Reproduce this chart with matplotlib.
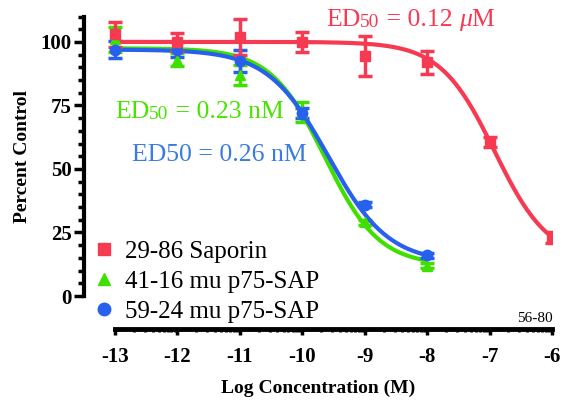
import numpy as np
import matplotlib.pyplot as plt
from matplotlib.lines import Line2D

# log molar concentrations
log_conc = [-13, -12, -11, -10, -9, -8, -7, -6]
log_conc_mu = [-13, -12, -11, -10, -9, -8]

# percent control (mean, sem)
sap_y = [103, 100, 102, 100, 94.5, 92, 60.5, 23]
sap_err = [5, 3.5, 7, 4, 8, 4.5, 2, 2]
mu41_y = [101, 93, 87, 72.5, 29, 12]
mu41_err = [5, 2.5, 4, 4, 1, 1]
mu59_y = [97, 97, 92.5, 72, 36, 16]
mu59_err = [3.5, 3, 4.5, 2, 1, 1]

# fitted curve parameters: top, bottom, logEC50, hill slope
sap_fit = [100, 14, -6.92, -1.0]
mu41_fit = [97.5, 12, -9.64, -1.0]
mu59_fit = [97, 13, -9.585, -0.9]

labels = ["29-86 Saporin", "41-16 mu p75-SAP", "59-24 mu p75-SAP"]
red = "#F53A52"
green = "#3FE000"
blue = "#2860EE"

plt.rcParams['font.family'] = ['Liberation Serif', 'DejaVu Serif']
plt.rcParams['axes.unicode_minus'] = False


def logistic(x, p):
    top, bottom, ec50, hill = p
    return bottom + (top - bottom) / (1 + 10 ** ((x - ec50) * -hill))


fig = plt.figure(figsize=(5.62, 4), dpi=100)
ax = fig.add_axes([84 / 562, 104 / 400, 468 / 562, 279.5 / 400])

series = [
    (log_conc_mu, mu41_y, mu41_err, mu41_fit, green, "^", -8),
    (log_conc_mu, mu59_y, mu59_err, mu59_fit, blue, "o", -8),
    (log_conc, sap_y, sap_err, sap_fit, red, "s", -6),
]
for xs, ys, es, fit, col, mk, xend in series:
    xx = np.linspace(-13, xend, 300)
    ax.plot(xx, logistic(xx, fit), color=col, lw=3, solid_capstyle='butt')
    ax.errorbar(xs, ys, yerr=es, fmt=mk, color=col, ms=7.5, elinewidth=2.5,
                capsize=5, capthick=2.5)

ax.set_xlim(-13.497, -6)
ax.set_ylim(0, 110)

for s in ['top', 'right']:
    ax.spines[s].set_visible(False)
ax.spines['left'].set_linewidth(3)
ax.spines['left'].set_bounds(0, 110)
ax.spines['bottom'].set_linewidth(3.5)
ax.spines['bottom'].set_bounds(-13, -6)
ax.spines['bottom'].set_position(('outward', 24))

ax.set_yticks([0, 25, 50, 75, 100])
ax.set_yticks(np.arange(0, 111, 5), minor=True)
ax.set_xticks(range(-13, -5))
ax.set_xticks([d + np.log10(k) for d in range(-13, -6) for k in range(2, 10)], minor=True)
ax.tick_params(axis='y', which='major', length=7, width=2.5, labelsize=15, pad=2)
ax.tick_params(axis='y', which='minor', length=4, width=2.5)
ax.tick_params(axis='x', which='major', length=4, width=2.5, labelsize=15, pad=9)
ax.tick_params(axis='x', which='minor', length=2.5, width=2)
for t in ax.get_xticklabels() + ax.get_yticklabels():
    t.set_fontweight('bold')

ax.set_ylabel("Percent Control", fontsize=14, fontweight='bold', labelpad=7)
ax.set_xlabel("Log Concentration (M)", fontsize=14, fontweight='bold', labelpad=9)

handles = [Line2D([], [], ls='none', marker=m, color=c, ms=9)
           for m, c in [("s", red), ("^", green), ("o", blue)]]
ax.legend(handles, labels, loc='upper left', bbox_to_anchor=(84 / 562, 1 - 228 / 400),
          bbox_transform=fig.transFigure, frameon=False, fontsize=18,
          handlelength=0.6, handletextpad=0.55, labelspacing=0.3, borderpad=0)


def ed50_label(x, y, pieces, color):
    # chain text pieces left to right, starting at figure pixel coords
    prev = fig.text(x / 562, 1 - y / 400, pieces[0][0], color=color,
                    fontsize=pieces[0][1], va='bottom')
    for p in pieces[1:]:
        style = p[2] if len(p) > 2 else 'normal'
        prev = ax.annotate(p[0], xy=(1, 0), xycoords=prev, va='bottom',
                           color=color, fontsize=p[1], fontstyle=style)


ed50_label(326, 31, [("ED", 18.5), ("50", 14), (" = 0.12 ", 18.5), ("\u03bc", 18.5, 'italic'), ("M", 18.5)], red)
ed50_label(115, 123, [("ED", 18.5), ("50", 14), (" = 0.23 nM", 18.5)], "#48E400")
ed50_label(132, 166, [("ED50 = 0.26 nM", 18.5)], "#3A7BE0")

fig.text(553 / 562, 1 - 325 / 400, "56-80", fontsize=11, ha='right', va='bottom')

fig.savefig("out.png", dpi=100)
